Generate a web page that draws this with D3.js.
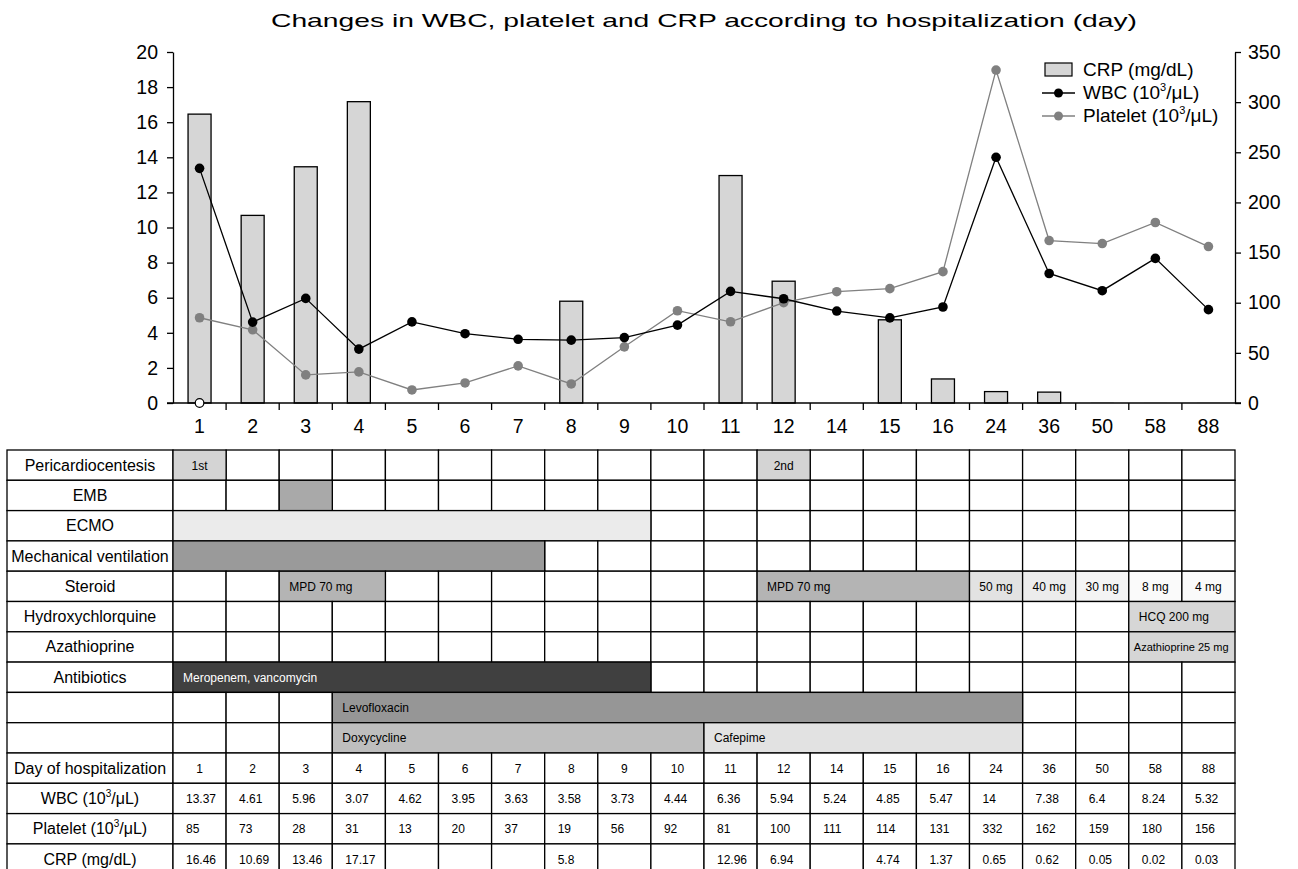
<!DOCTYPE html>
<html>
<head>
<meta charset="utf-8">
<script src="https://cdn.jsdelivr.net/npm/d3@7"></script>
<style>
  body { margin: 0; background: #fff; }
  text { font-family: "Liberation Sans", Arial, sans-serif; }
</style>
</head>
<body>
<div id="chart"></div>
<script>
// chart data
var days = ["1","2","3","4","5","6","7","8","9","10","11","12","14","15","16","24","36","50","58","88"];
var wbc = [13.37, 4.61, 5.96, 3.07, 4.62, 3.95, 3.63, 3.58, 3.73, 4.44, 6.36, 5.94, 5.24, 4.85, 5.47, 14, 7.38, 6.4, 8.24, 5.32];
var platelet = [85, 73, 28, 31, 13, 20, 37, 19, 56, 92, 81, 100, 111, 114, 131, 332, 162, 159, 180, 156];
var crp = [16.46, 10.69, 13.46, 17.17, null, null, null, 5.8, null, null, 12.96, 6.94, null, 4.74, 1.37, 0.65, 0.62, 0.05, 0.02, 0.03];
var leftTicks = [0, 2, 4, 6, 8, 10, 12, 14, 16, 18, 20];
var rightTicks = [0, 50, 100, 150, 200, 250, 300, 350];

// treatment rows: start = day index, n = number of days covered
var treatments = [
  {label: "Pericardiocentesis", spans: [{start: 0, n: 1, text: "1st", fill: "#d4d4d4", mid: true}, {start: 11, n: 1, text: "2nd", fill: "#d4d4d4", mid: true}]},
  {label: "EMB", spans: [{start: 2, n: 1, text: "", fill: "#a9a9a9"}]},
  {label: "ECMO", spans: [{start: 0, n: 9, text: "", fill: "#ebebeb"}]},
  {label: "Mechanical ventilation", spans: [{start: 0, n: 7, text: "", fill: "#9a9a9a"}]},
  {label: "Steroid", spans: [{start: 2, n: 2, text: "MPD 70 mg", fill: "#b4b4b4"}, {start: 11, n: 4, text: "MPD 70 mg", fill: "#b4b4b4"},
    {start: 15, n: 1, text: "50 mg", fill: "#e2e2e2", mid: true}, {start: 16, n: 1, text: "40 mg", fill: "#ececec", mid: true},
    {start: 17, n: 1, text: "30 mg", fill: "#f4f4f4", mid: true}, {start: 18, n: 1, text: "8 mg", fill: "#fafafa", mid: true},
    {start: 19, n: 1, text: "4 mg", fill: "#fafafa", mid: true}]},
  {label: "Hydroxychlorquine", spans: [{start: 18, n: 2, text: "HCQ 200 mg", fill: "#d6d6d6"}]},
  {label: "Azathioprine", spans: [{start: 18, n: 2, text: "Azathioprine 25 mg", fill: "#d6d6d6", small: true}]},
  {label: "Antibiotics", spans: [{start: 0, n: 9, text: "Meropenem, vancomycin", fill: "#404040", white: true}]},
  {label: "", spans: [{start: 3, n: 13, text: "Levofloxacin", fill: "#969696"}]},
  {label: "", spans: [{start: 3, n: 7, text: "Doxycycline", fill: "#bebebe"}, {start: 10, n: 6, text: "Cafepime", fill: "#e2e2e2"}]}
];

var width = 1298, height = 869;

var svg = d3.select("#chart").append("svg")
    .attr("width", width)
    .attr("height", height);

var x = d3.scaleBand().domain(days).range([173, 1235]);
var yL = d3.scaleLinear().domain([0, 20]).range([403, 52]);
var yR = d3.scaleLinear().domain([0, 350]).range([403, 52]);
var bw = x.bandwidth();

// title
svg.append("text")
    .attr("x", 704).attr("y", 27)
    .attr("text-anchor", "middle")
    .attr("textLength", 866)
    .attr("lengthAdjust", "spacingAndGlyphs")
    .style("font-size", "19px")
    .text("Changes in WBC, platelet and CRP according to hospitalization (day)");

// CRP bars
svg.selectAll(".bar")
    .data(crp.map(function(v, i) { return {day: days[i], v: v}; }).filter(function(d) { return d.v !== null; }))
    .enter().append("rect")
    .attr("class", "bar")
    .attr("x", function(d) { return x(d.day) + bw / 2 - 11.5; })
    .attr("width", 23)
    .attr("y", function(d) { return yL(d.v); })
    .attr("height", function(d) { return yL(0) - yL(d.v); })
    .attr("fill", "#d6d6d6")
    .attr("stroke", "#000")
    .attr("stroke-width", function(d) { return yL(0) - yL(d.v) < 1.5 ? 0 : 1.3; });

// axes
var axL = svg.append("g")
    .attr("transform", "translate(173,0)")
    .call(d3.axisLeft(yL).tickValues(leftTicks).tickSize(6).tickSizeOuter(0).tickPadding(9));
var axR = svg.append("g")
    .attr("transform", "translate(1235,0)")
    .call(d3.axisRight(yR).tickValues(rightTicks).tickSize(6).tickSizeOuter(0).tickPadding(7));
[axL, axR].forEach(function(a) {
  a.selectAll("text").style("font-size", "19.5px").style("fill", "#000");
  a.selectAll("line, path").attr("stroke", "#000").attr("stroke-width", 1.3);
});

// x axis: line, boundary ticks, centred labels
svg.append("line")
    .attr("x1", 167).attr("x2", 1241)
    .attr("y1", yL(0)).attr("y2", yL(0))
    .attr("stroke", "#000").attr("stroke-width", 1.3);
svg.selectAll(".xtick")
    .data(days.slice(1))
    .enter().append("line")
    .attr("x1", function(d) { return x(d); })
    .attr("x2", function(d) { return x(d); })
    .attr("y1", yL(0)).attr("y2", yL(0) + 7)
    .attr("stroke", "#000").attr("stroke-width", 1.3);
svg.selectAll(".xlab")
    .data(days)
    .enter().append("text")
    .attr("x", function(d) { return x(d) + bw / 2; })
    .attr("y", 433)
    .attr("text-anchor", "middle")
    .style("font-size", "19.5px")
    .text(function(d) { return d; });

// lines
var lineL = d3.line()
    .x(function(d, i) { return x(days[i]) + bw / 2; })
    .y(function(d) { return yL(d); });
var lineR = d3.line()
    .x(function(d, i) { return x(days[i]) + bw / 2; })
    .y(function(d) { return yR(d); });

svg.append("path")
    .attr("d", lineR(platelet))
    .attr("fill", "none").attr("stroke", "#808080").attr("stroke-width", 1.3);
svg.selectAll(".pdot")
    .data(platelet)
    .enter().append("circle")
    .attr("cx", function(d, i) { return x(days[i]) + bw / 2; })
    .attr("cy", function(d) { return yR(d); })
    .attr("r", 4.8)
    .attr("fill", "#808080");

svg.append("path")
    .attr("d", lineL(wbc))
    .attr("fill", "none").attr("stroke", "#000").attr("stroke-width", 1.3);
svg.selectAll(".wdot")
    .data(wbc)
    .enter().append("circle")
    .attr("cx", function(d, i) { return x(days[i]) + bw / 2; })
    .attr("cy", function(d) { return yL(d); })
    .attr("r", 4.8)
    .attr("fill", "#000");

// open marker at day 1 baseline
svg.append("circle")
    .attr("cx", x(days[0]) + bw / 2)
    .attr("cy", yL(0))
    .attr("r", 4.3)
    .attr("fill", "#fff").attr("stroke", "#000").attr("stroke-width", 1.2);

// legend
function unitLabel(sel, pre, sup) {
  sel.append("tspan").text(pre + " (10");
  sel.append("tspan").attr("dy", -8).style("font-size", sup + "px").text("3");
  sel.append("tspan").attr("dy", 8).text("/\u03bcL)");
}
var lg = svg.append("g").attr("transform", "translate(1045,0)");
lg.append("rect").attr("x", 0).attr("y", 63).attr("width", 27).attr("height", 13)
    .attr("fill", "#d6d6d6").attr("stroke", "#000").attr("stroke-width", 1.2);
lg.append("text").attr("x", 38).attr("y", 76).style("font-size", "19px").text("CRP (mg/dL)");
lg.append("line").attr("x1", -3).attr("x2", 30).attr("y1", 93).attr("y2", 93).attr("stroke", "#000").attr("stroke-width", 1.3);
lg.append("circle").attr("cx", 13.5).attr("cy", 93).attr("r", 4.5).attr("fill", "#000");
unitLabel(lg.append("text").attr("x", 38).attr("y", 99).style("font-size", "19px"), "WBC", 11);
lg.append("line").attr("x1", -3).attr("x2", 30).attr("y1", 116).attr("y2", 116).attr("stroke", "#808080").attr("stroke-width", 1.3);
lg.append("circle").attr("cx", 13.5).attr("cy", 116).attr("r", 4.5).attr("fill", "#808080");
unitLabel(lg.append("text").attr("x", 38).attr("y", 122).style("font-size", "19px"), "Platelet", 11);

// table
var tTop = 450, rh = 30.3, labelX = 7;
var table = svg.append("g");

function rowY(r) { return tTop + r * rh; }

function labelCell(r, fn) {
  table.append("rect")
      .attr("x", labelX).attr("y", rowY(r))
      .attr("width", x.range()[0] - labelX).attr("height", rh)
      .attr("fill", "#fff").attr("stroke", "#000").attr("stroke-width", 1.3);
  var t = table.append("text")
      .attr("x", (labelX + x.range()[0]) / 2)
      .attr("y", rowY(r) + rh / 2 + 5.5)
      .attr("text-anchor", "middle")
      .style("font-size", "16px");
  fn(t);
}

function emptyCells(r, covered) {
  days.forEach(function(d, i) {
    if (covered[i]) return;
    table.append("rect")
        .attr("x", x(d)).attr("y", rowY(r))
        .attr("width", bw).attr("height", rh)
        .attr("fill", "#fff").attr("stroke", "#000").attr("stroke-width", 1.3);
  });
}

treatments.forEach(function(row, r) {
  labelCell(r, function(t) { t.text(row.label); });
  var covered = [];
  row.spans.forEach(function(s) { for (var k = 0; k < s.n; k++) covered[s.start + k] = true; });
  emptyCells(r, covered);
  row.spans.forEach(function(s) {
    var x0 = x(days[s.start]);
    table.append("rect")
        .attr("x", x0).attr("y", rowY(r))
        .attr("width", bw * s.n).attr("height", rh)
        .attr("fill", s.fill).attr("stroke", "#000").attr("stroke-width", 1.3);
    if (s.text) {
      table.append("text")
          .attr("x", s.mid ? x0 + bw * s.n / 2 : x0 + (s.small ? 5 : 10))
          .attr("y", rowY(r) + rh / 2 + 4.5)
          .attr("text-anchor", s.mid ? "middle" : "start")
          .style("font-size", s.small ? "11px" : "12px")
          .style("fill", s.white ? "#fff" : "#000")
          .text(s.text);
    }
  });
});

// value rows
function unitLabelSmall(sel, pre) {
  sel.append("tspan").text(pre + " (10");
  sel.append("tspan").attr("dy", -7).style("font-size", "10px").text("3");
  sel.append("tspan").attr("dy", 7).text("/\u03bcL)");
}
var valueRows = [
  {label: function(t) { t.text("Day of hospitalization"); }, values: days, mid: true},
  {label: function(t) { unitLabelSmall(t, "WBC"); }, values: wbc},
  {label: function(t) { unitLabelSmall(t, "Platelet"); }, values: platelet},
  {label: function(t) { t.text("CRP (mg/dL)"); }, values: crp}
];

valueRows.forEach(function(row, k) {
  var r = treatments.length + k;
  labelCell(r, row.label);
  emptyCells(r, []);
  row.values.forEach(function(v, i) {
    if (v === null) return;
    table.append("text")
        .attr("x", row.mid ? x(days[i]) + bw / 2 : x(days[i]) + 13)
        .attr("y", rowY(r) + rh / 2 + 4.5)
        .attr("text-anchor", row.mid ? "middle" : "start")
        .style("font-size", "12px")
        .text(String(v));
  });
});
</script>
</body>
</html>
